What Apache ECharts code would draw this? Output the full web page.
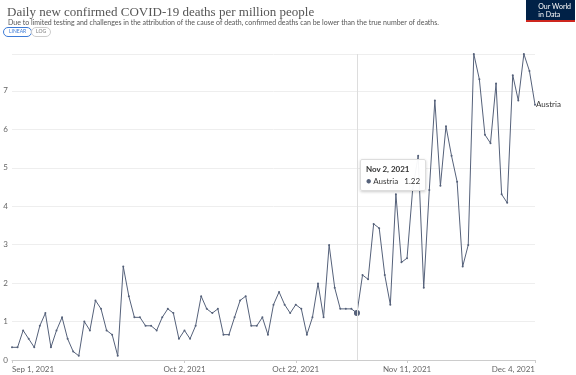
<!DOCTYPE html>
<html>
<head>
<meta charset="utf-8">
<script src="https://cdn.jsdelivr.net/npm/echarts@6/dist/echarts.min.js"></script>
<style>
  html, body { margin: 0; padding: 0; background: #fff; }
  #chart { width: 576px; height: 375px; }
</style>
</head>
<body>
<div id="chart"></div>
<script>
// daily deaths per million, Austria, Sep 1 - Dec 4 2021
const deaths = [
  0.33, 0.33, 0.77, 0.55, 0.33, 0.89, 1.22, 0.33, 0.77, 1.11,
  0.55, 0.22, 0.11, 1.00, 0.77, 1.55, 1.33, 0.77, 0.66, 0.11,
  2.43, 1.66, 1.11, 1.11, 0.89, 0.89, 0.77, 1.11, 1.33, 1.22,
  0.55, 0.77, 0.55, 0.89, 1.66, 1.33, 1.22, 1.33, 0.66, 0.66,
  1.11, 1.55, 1.66, 0.89, 0.89, 1.11, 0.66, 1.44, 1.77, 1.44,
  1.22, 1.44, 1.33, 0.66, 1.11, 1.99, 1.11, 2.99, 1.88, 1.33,
  1.33, 1.33, 1.22, 2.21, 2.10, 3.54, 3.43, 2.21, 1.44, 4.31,
  2.54, 2.65, 4.42, 5.31, 1.88, 4.42, 6.75, 4.53, 6.08, 5.31,
  4.64, 2.43, 2.99, 7.96, 7.30, 5.86, 5.64, 7.19, 4.31, 4.09,
  7.41, 6.75, 7.96, 7.52, 6.64
];
const countryName = 'Austria';
const tickLabels = ['Sep 1, 2021', 'Oct 2, 2021', 'Oct 22, 2021', 'Nov 11, 2021', 'Dec 4, 2021'];
const yTicks = [0, 1, 2, 3, 4, 5, 6, 7];
const hoverDay = 'Nov 2, 2021';

// build the day labels
const months = ['Jan','Feb','Mar','Apr','May','Jun','Jul','Aug','Sep','Oct','Nov','Dec'];
const days = [];
for (let i = 0; i < deaths.length; i++) {
  const d = new Date(Date.UTC(2021, 8, 1 + i));
  days.push(months[d.getUTCMonth()] + ' ' + d.getUTCDate() + ', ' + d.getUTCFullYear());
}
const hoverIdx = days.indexOf(hoverDay);

const chart = echarts.init(document.getElementById('chart'), null, { renderer: 'canvas' });
const lineColor = '#55617a';

chart.setOption({
  animation: false,
  textStyle: { fontFamily: 'Lato, sans-serif' },
  title: [
    {
      text: 'Daily new confirmed COVID-19 deaths per million people',
      left: 2, top: 1,
      textStyle: { fontFamily: '"Liberation Serif", serif', fontSize: 13, fontWeight: 'normal', color: '#555' }
    },
    {
      text: 'Due to limited testing and challenges in the attribution of the cause of death, confirmed deaths can be lower than the true number of deaths.',
      left: 3, top: 14,
      textStyle: { fontSize: 7, fontWeight: 'normal', color: '#555' }
    }
  ],
  graphic: [
    // linear / log toggle
    { type: 'rect', left: 3, top: 27, shape: { width: 28, height: 9, r: 4.5 },
      style: { fill: '#fff', stroke: '#3d7bd6', lineWidth: 1 } },
    { type: 'text', left: 9, top: 29, style: { text: 'LINEAR', fontSize: 5, fill: '#3d7bd6', fontFamily: 'Lato' } },
    { type: 'rect', left: 31, top: 27, shape: { width: 19, height: 9, r: 4.5 },
      style: { fill: '#fff', stroke: '#ccc', lineWidth: 1 } },
    { type: 'text', left: 36, top: 29, style: { text: 'LOG', fontSize: 5, fill: '#777', fontFamily: 'Lato' } },
    // logo
    { type: 'rect', right: 1, top: 0, shape: { width: 49, height: 22 }, style: { fill: '#002147' } },
    { type: 'rect', right: 1, top: 20, shape: { width: 49, height: 2 }, style: { fill: '#ce261e' } },
    { type: 'text', right: 5, top: 3, style: { text: 'Our World\nin Data', fontSize: 7, fill: '#fff', align: 'right', lineHeight: 8, fontFamily: 'Lato' } }
  ],
  grid: { left: 12, right: 41, top: 54, bottom: 15, containLabel: false },
  tooltip: {
    trigger: 'axis',
    alwaysShowContent: true,
    transitionDuration: 0,
    showDelay: 0,
    axisPointer: { type: 'line', lineStyle: { color: '#ddd', width: 1, type: 'solid' }, label: { show: false } },
    position: [360, 159],
    backgroundColor: 'rgba(255,255,255,0.95)',
    borderColor: '#ddd',
    borderWidth: 1,
    padding: [3, 5],
    extraCssText: 'box-shadow: 0 1px 3px rgba(0,0,0,0.2); border-radius: 2px;',
    textStyle: { fontFamily: 'Lato', fontSize: 8, color: '#333' },
    formatter: function (p) {
      const it = p[0];
      return '<div style="font-size:8px;line-height:12px;color:#333"><b>' + it.name + '</b><br>' +
        '<span style="color:' + lineColor + ';font-size:9px">&#9679;</span> ' + countryName +
        '&nbsp;&nbsp;&nbsp;' + it.value.toFixed(2) + '</div>';
    }
  },
  xAxis: {
    type: 'category',
    data: days,
    boundaryGap: false,
    axisLine: { lineStyle: { color: '#ccc' } },
    axisTick: {
      show: true, length: 3, lineStyle: { color: '#ccc' },
      interval: function (i, v) { return tickLabels.indexOf(v) >= 0; }
    },
    axisLabel: {
      color: '#666', fontSize: 8, margin: 5,
      interval: function (i, v) { return tickLabels.indexOf(v) >= 0; },
      alignMinLabel: 'left', alignMaxLabel: 'right'
    },
    splitLine: { show: false }
  },
  yAxis: {
    type: 'value',
    min: 0,
    max: 'dataMax',
    interval: 1,
    axisLine: { show: false },
    axisTick: { show: false },
    axisLabel: {
      color: '#666', fontSize: 8, margin: 4,
      formatter: function (v) { return yTicks.indexOf(v) >= 0 ? String(v) : ''; }
    },
    splitLine: { lineStyle: { color: '#eee', width: 1 } }
  },
  series: [{
    name: countryName,
    type: 'line',
    data: deaths,
    symbol: 'circle',
    symbolSize: 2,
    showAllSymbol: true,
    lineStyle: { color: lineColor, width: 1 },
    itemStyle: { color: lineColor },
    emphasis: { disabled: true },
    endLabel: { show: true, formatter: '{a}', fontSize: 8, color: '#333', distance: 1 },
    markPoint: {
      symbol: 'circle', symbolSize: 5,
      itemStyle: { color: lineColor },
      label: { show: false },
      data: [{ coord: [hoverIdx, deaths[hoverIdx]] }]
    }
  }]
});

chart.dispatchAction({ type: 'showTip', seriesIndex: 0, dataIndex: hoverIdx });
</script>
</body>
</html>
